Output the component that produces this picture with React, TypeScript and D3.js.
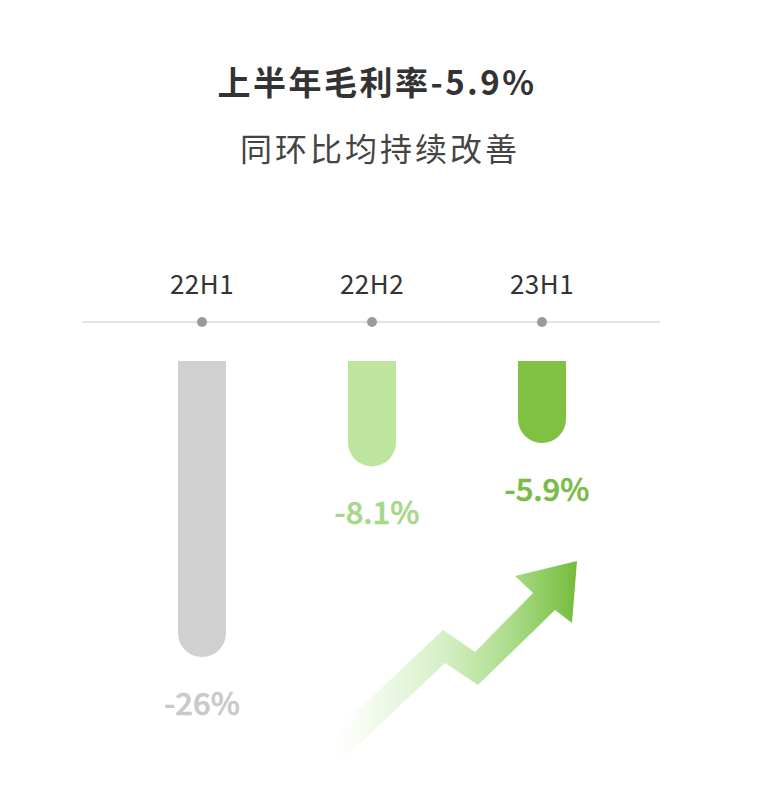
import React from "react";
import * as d3 from "d3";

// data
const periods = ["22H1", "22H2", "23H1"];
const grossMargin = [-26, -8.1, -5.9];
const valueLabels = ["-26%", "-8.1%", "-5.9%"];
const barColors = ["#d0d0d0", "#bde59e", "#80c043"];
const labelColors = ["#c9c9c9", "#a7d789", "#79bb46"];

const title = "上半年毛利率-5.9%";
const subtitle = "同环比均持续改善";

// decorative trend arrow outline
const arrowOutline: [number, number][] = [
  [320, 746], [443, 630], [475, 652], [533, 593], [515, 576], [577, 561],
  [572, 623], [555, 610], [478, 685], [445, 663], [338, 764],
];

const W = 762;
const H = 797;
const FONT = "'Noto Sans CJK SC', 'Noto Sans', sans-serif";

const App: React.FC = () => {
  const x = d3.scalePoint<string>().domain(periods).range([202, 542]);
  // bar length by magnitude (infographic, not strictly proportional)
  const len = d3.scaleLinear().domain([-1.8, 26]).range([0, 296]);

  const axisY = 322;
  const barTop = 361;
  const barW = 48;
  const r = barW / 2;

  const barPath = (cx: number, v: number) => {
    const x0 = cx - barW / 2;
    const x1 = cx + barW / 2;
    const b = barTop + len(Math.abs(v));
    return `M${x0},${barTop}H${x1}V${b - r}A${r},${r} 0 0 1 ${x0},${b - r}Z`;
  };

  const arrowLine = d3.line().curve(d3.curveLinearClosed);

  return (
    <div style={{ width: W, height: H }}>
      <style>{"body{margin:0}"}</style>
      <svg width={W} height={H} style={{ display: "block", fontFamily: FONT }}>
        <defs>
          <linearGradient id="arrowGrad" gradientUnits="userSpaceOnUse" x1={322} y1={0} x2={577} y2={0}>
            <stop offset="0" stopColor="#ffffff" stopOpacity={0} />
            <stop offset="0.2" stopColor="#eef9e7" stopOpacity={0.8} />
            <stop offset="0.48" stopColor="#d5efc4" />
            <stop offset="0.75" stopColor="#a9db88" />
            <stop offset="1" stopColor="#74bc3c" />
          </linearGradient>
        </defs>

        <text x={W / 2 - 4} y={95} textAnchor="middle" fontSize={33} fontWeight={700}
          fill="#333" letterSpacing={2.5}>
          {title}
        </text>
        <text x={W / 2 - 1} y={161} textAnchor="middle" fontSize={32} fontWeight={400}
          fill="#444" letterSpacing={3}>
          {subtitle}
        </text>

        {/* category labels */}
        {periods.map((p) => (
          <text key={p} x={x(p)} y={294} textAnchor="middle" fontSize={26} fill="#333"
            letterSpacing={0.5}>
            {p}
          </text>
        ))}

        {/* axis */}
        <line x1={82} x2={660} y1={axisY} y2={axisY} stroke="#c6c6c6" strokeWidth={1} />
        {periods.map((p) => (
          <circle key={p} cx={x(p)} cy={axisY} r={5} fill="#9b9b9b" />
        ))}

        {/* bars */}
        {periods.map((p, i) => (
          <path key={p} d={barPath(x(p)!, grossMargin[i])} fill={barColors[i]} />
        ))}

        {/* value labels */}
        {periods.map((p, i) => (
          <text key={p} x={x(p)! + (i === 0 ? 0 : 5)} y={barTop + len(Math.abs(grossMargin[i])) + 58}
            textAnchor="middle" fontSize={31} fontWeight={500} fill={labelColors[i]}
            stroke={labelColors[i]} strokeWidth={0.6}>
            {valueLabels[i]}
          </text>
        ))}

        {/* trend arrow */}
        <path d={arrowLine(arrowOutline) ?? ""} fill="url(#arrowGrad)" />
      </svg>
    </div>
  );
};

export default App;
